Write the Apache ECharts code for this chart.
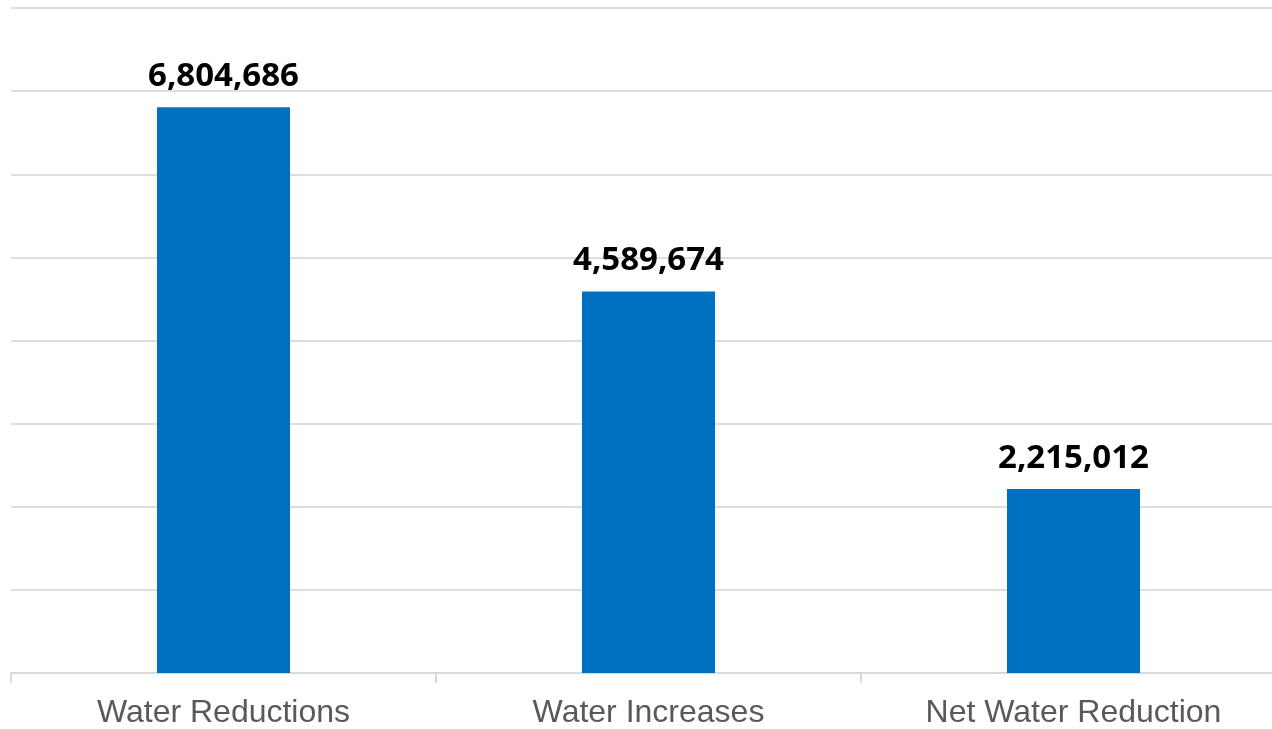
<!DOCTYPE html>
<html><head><meta charset="utf-8">
<script src="https://cdn.jsdelivr.net/npm/echarts@6/dist/echarts.min.js"></script>
<style>html,body{margin:0;padding:0;background:#fff;overflow:hidden}#c{width:1300px;height:729px}</style>
</head><body><div id="c"></div>
<script>
const categories = ["Water Reductions", "Water Increases", "Net Water Reduction"];
const values = [6804686, 4589674, 2215012];
const yMin = 0, yMax = 8000000, yInterval = 1000000;

const chart = echarts.init(document.getElementById('c'));
chart.setOption({
  animation: false,
  grid: { left: 11, top: 8, width: 1275, bottom: 55, containLabel: false },
  xAxis: {
    type: 'category', data: categories,
    axisLine: { lineStyle: { color: '#d9d9d9', width: 2 } },
    axisTick: { show: true, length: 10, alignWithLabel: false, lineStyle: { color: '#d9d9d9', width: 2 } },
    axisLabel: { color: '#595959', fontFamily: 'Liberation Sans, Arial', fontSize: 32, margin: 24 }
  },
  yAxis: {
    type: 'value', min: yMin, max: yMax, interval: yInterval,
    axisLabel: { show: false }, axisLine: { show: false }, axisTick: { show: false },
    splitLine: { lineStyle: { color: '#dedede', width: 2 } }
  },
  series: [{
    type: 'bar', data: values, barWidth: 133,
    itemStyle: { color: '#0070c0' },
    label: {
      show: true, position: 'top', distance: 14,
      color: '#000', fontWeight: 'bold', fontFamily: 'Noto Sans', fontSize: 33,
      formatter: p => p.value.toLocaleString('en-US')
    }
  }]
});
</script></body></html>
